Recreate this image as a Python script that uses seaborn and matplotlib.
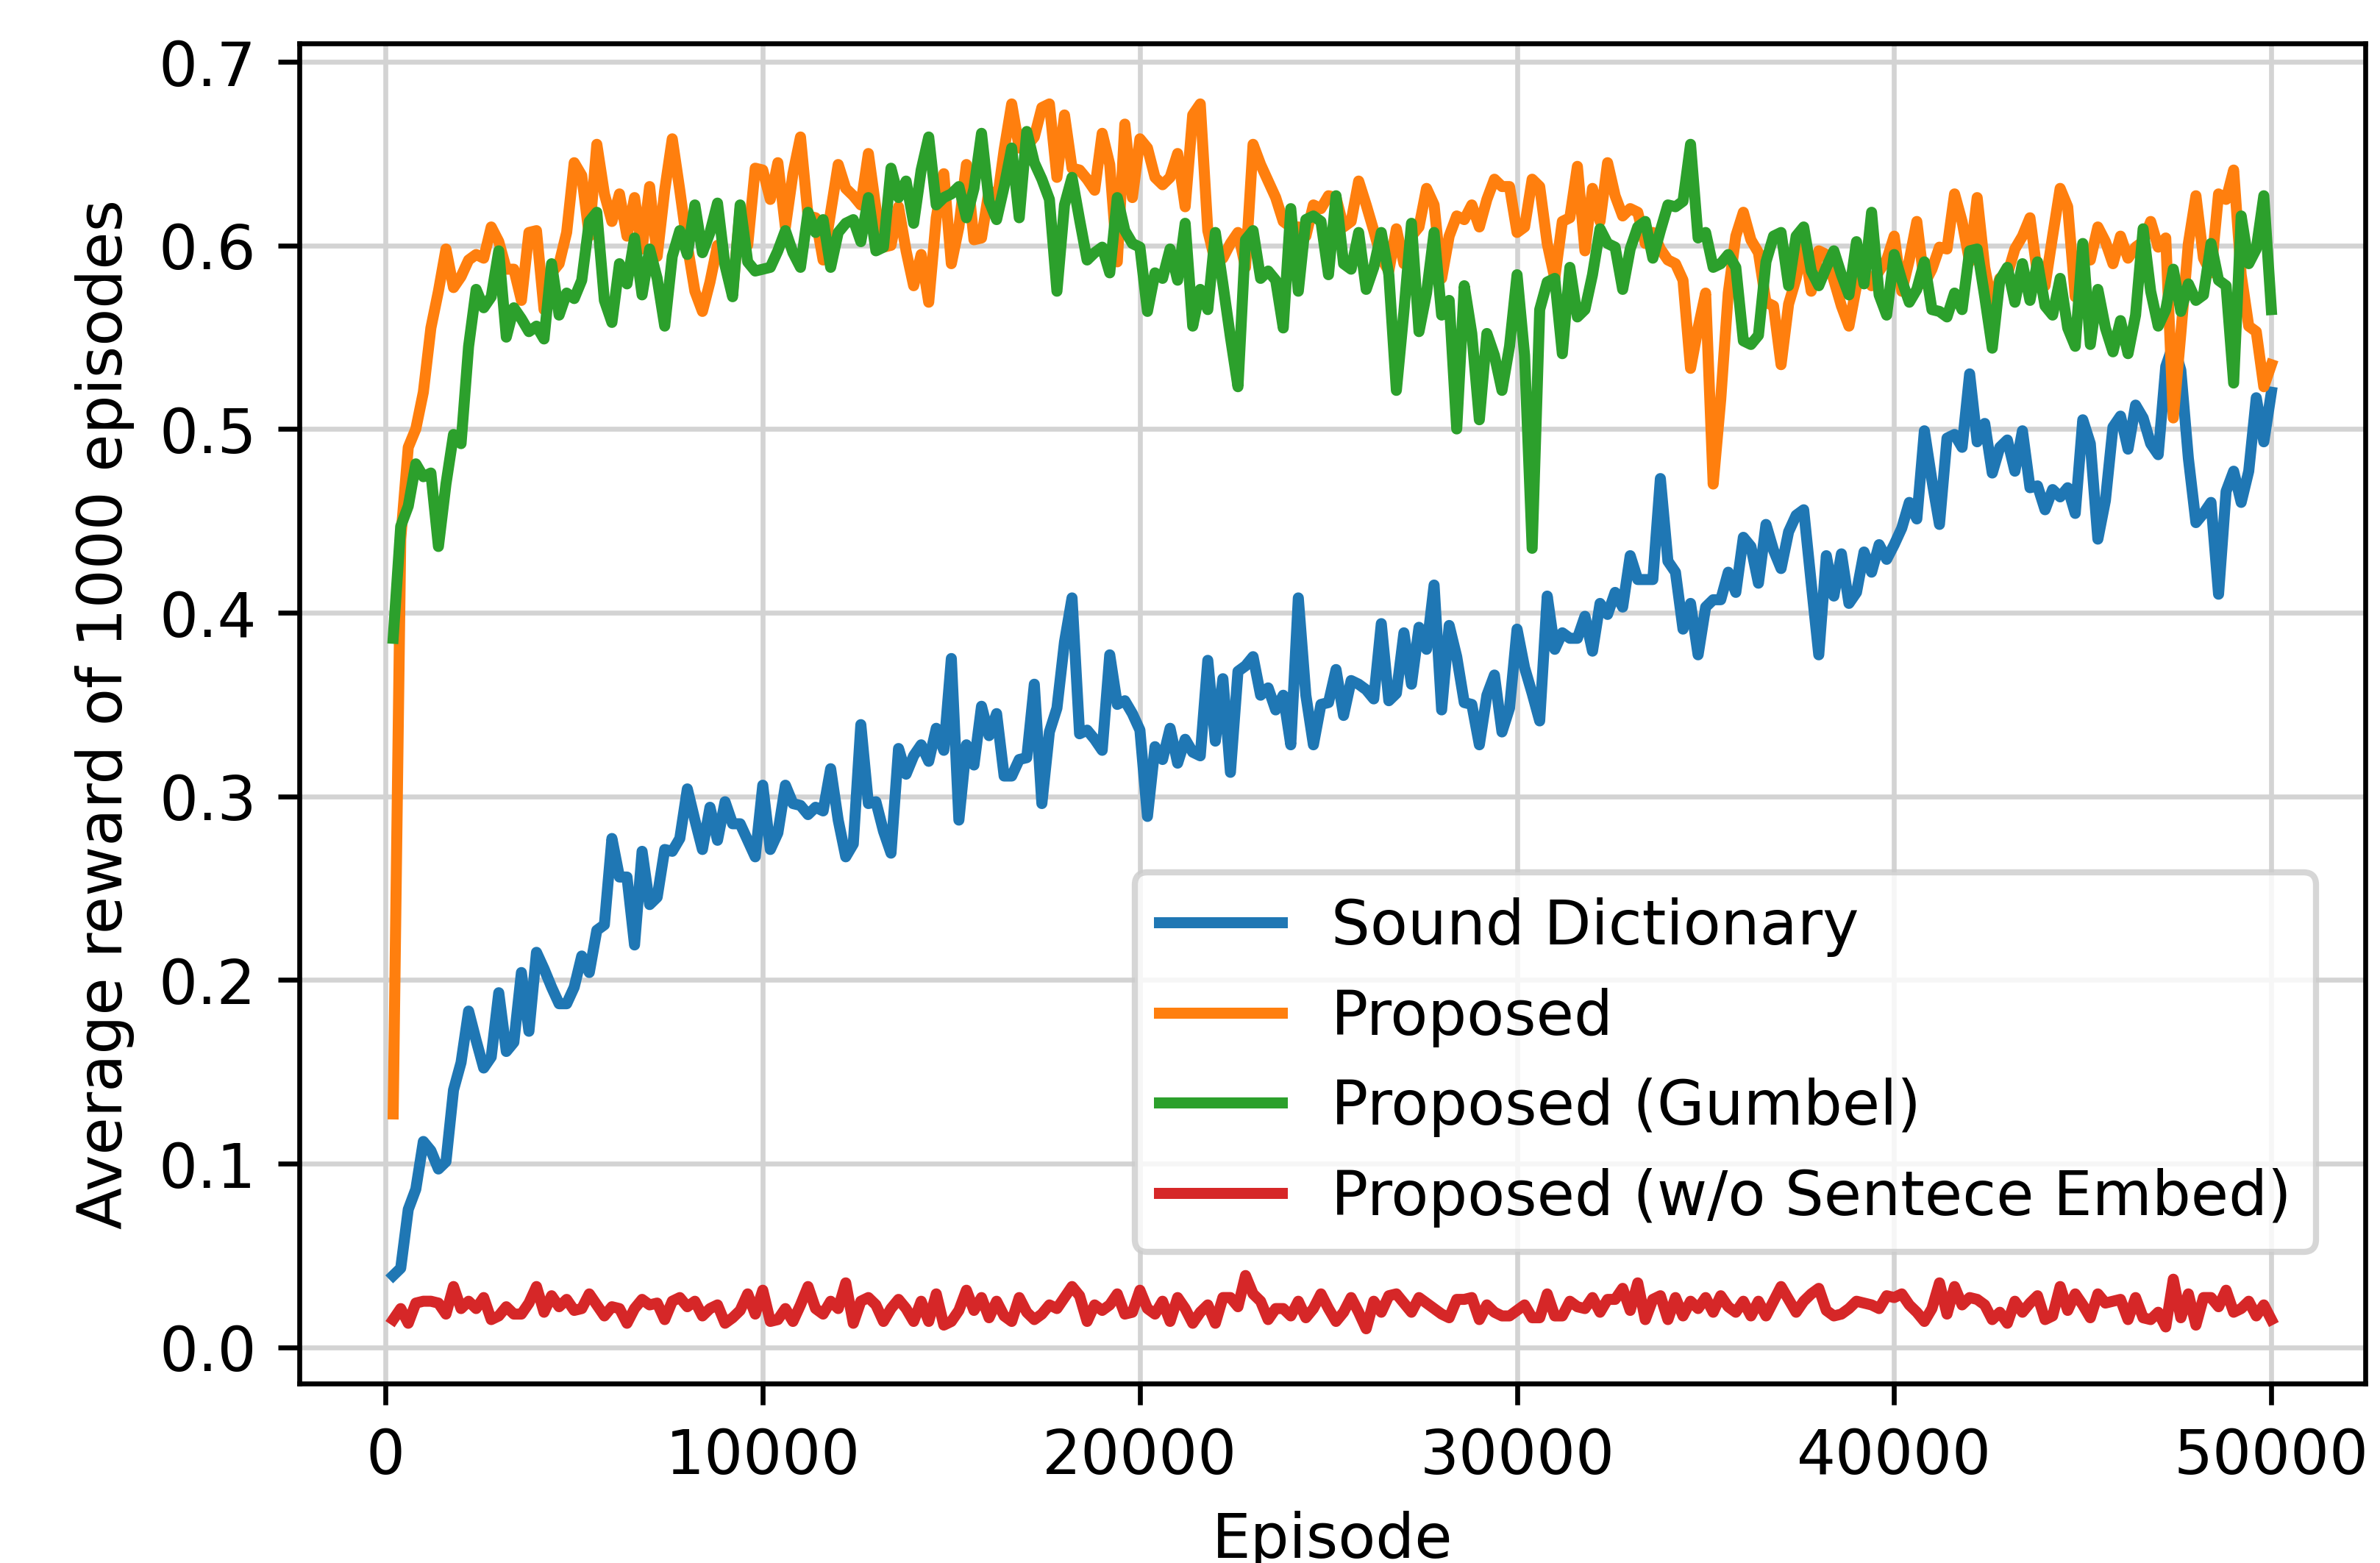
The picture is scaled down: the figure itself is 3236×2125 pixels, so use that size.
import numpy as np
import pandas as pd
import seaborn as sns
import matplotlib.pyplot as plt

# episodes at which the running average is logged (every 200)
episodes = np.arange(200, 50001, 200)

sound_dictionary = [
    0.039, 0.043, 0.075, 0.086, 0.112, 0.107, 0.097, 0.101, 0.140, 0.155,
    0.183, 0.167, 0.152, 0.158, 0.193, 0.161, 0.166, 0.204, 0.172, 0.215,
    0.206, 0.196, 0.187, 0.187, 0.196, 0.213, 0.204, 0.227, 0.230, 0.277,
    0.256, 0.256, 0.219, 0.270, 0.241, 0.245, 0.271, 0.270, 0.277, 0.304,
    0.287, 0.271, 0.294, 0.276, 0.297, 0.285, 0.285, 0.276, 0.267, 0.306,
    0.271, 0.280, 0.306, 0.296, 0.295, 0.290, 0.294, 0.292, 0.315, 0.287,
    0.267, 0.274, 0.339, 0.296, 0.297, 0.281, 0.269, 0.326, 0.312, 0.322,
    0.328, 0.319, 0.337, 0.325, 0.375, 0.287, 0.328, 0.317, 0.349, 0.333,
    0.345, 0.311, 0.311, 0.320, 0.321, 0.361, 0.296, 0.335, 0.348, 0.384,
    0.408, 0.334, 0.336, 0.331, 0.325, 0.377, 0.350, 0.352, 0.345, 0.336,
    0.289, 0.327, 0.320, 0.337, 0.318, 0.331, 0.324, 0.322, 0.374, 0.330,
    0.364, 0.313, 0.368, 0.371, 0.376, 0.355, 0.359, 0.347, 0.355, 0.328,
    0.408, 0.355, 0.328, 0.350, 0.351, 0.369, 0.344, 0.363, 0.361, 0.358,
    0.353, 0.394, 0.352, 0.356, 0.389, 0.361, 0.392, 0.380, 0.415, 0.347,
    0.393, 0.376, 0.351, 0.350, 0.328, 0.355, 0.366, 0.335, 0.348, 0.391,
    0.370, 0.356, 0.341, 0.409, 0.380, 0.389, 0.386, 0.386, 0.398, 0.379,
    0.405, 0.399, 0.411, 0.403, 0.431, 0.418, 0.418, 0.418, 0.473, 0.428,
    0.422, 0.391, 0.405, 0.377, 0.403, 0.407, 0.407, 0.422, 0.411, 0.441,
    0.436, 0.416, 0.448, 0.434, 0.424, 0.444, 0.453, 0.456, 0.416, 0.377,
    0.431, 0.409, 0.432, 0.405, 0.411, 0.433, 0.422, 0.437, 0.429, 0.437,
    0.446, 0.460, 0.451, 0.499, 0.472, 0.448, 0.495, 0.497, 0.490, 0.530,
    0.493, 0.503, 0.476, 0.490, 0.494, 0.477, 0.499, 0.468, 0.469, 0.456,
    0.467, 0.463, 0.468, 0.454, 0.505, 0.492, 0.440, 0.461, 0.501, 0.507,
    0.489, 0.513, 0.506, 0.492, 0.486, 0.534, 0.546, 0.532, 0.484, 0.449,
    0.454, 0.460, 0.410, 0.466, 0.477, 0.460, 0.477, 0.517, 0.493, 0.520,
]

proposed = [
    0.127, 0.440, 0.490, 0.500, 0.520, 0.555, 0.575, 0.598, 0.577, 0.583,
    0.592, 0.595, 0.593, 0.610, 0.602, 0.587, 0.587, 0.570, 0.607, 0.608,
    0.565, 0.585, 0.590, 0.607, 0.645, 0.638, 0.605, 0.655, 0.628, 0.613,
    0.628, 0.605, 0.626, 0.598, 0.632, 0.594, 0.630, 0.658, 0.630, 0.600,
    0.575, 0.564, 0.580, 0.600, 0.590, 0.574, 0.620, 0.600, 0.642, 0.641,
    0.625, 0.645, 0.610, 0.639, 0.659, 0.616, 0.615, 0.592, 0.618, 0.644,
    0.631, 0.627, 0.622, 0.650, 0.620, 0.599, 0.600, 0.621, 0.597, 0.578,
    0.595, 0.569, 0.615, 0.639, 0.590, 0.610, 0.644, 0.603, 0.604, 0.630,
    0.622, 0.652, 0.677, 0.653, 0.654, 0.659, 0.675, 0.677, 0.637, 0.671,
    0.642, 0.641, 0.636, 0.630, 0.661, 0.644, 0.591, 0.666, 0.626, 0.658,
    0.653, 0.637, 0.633, 0.637, 0.650, 0.621, 0.671, 0.677, 0.608, 0.591,
    0.593, 0.601, 0.607, 0.588, 0.655, 0.644, 0.635, 0.626, 0.613, 0.610,
    0.610, 0.605, 0.622, 0.620, 0.627, 0.626, 0.610, 0.613, 0.635, 0.622,
    0.608, 0.593, 0.586, 0.609, 0.590, 0.605, 0.610, 0.631, 0.622, 0.582,
    0.605, 0.616, 0.614, 0.622, 0.610, 0.625, 0.636, 0.632, 0.632, 0.607,
    0.610, 0.636, 0.632, 0.601, 0.582, 0.613, 0.615, 0.643, 0.597, 0.631,
    0.613, 0.645, 0.627, 0.616, 0.620, 0.618, 0.601, 0.607, 0.598, 0.592,
    0.590, 0.581, 0.533, 0.555, 0.574, 0.470, 0.516, 0.574, 0.605, 0.618,
    0.603, 0.596, 0.569, 0.567, 0.535, 0.568, 0.582, 0.601, 0.575, 0.597,
    0.595, 0.581, 0.567, 0.556, 0.578, 0.588, 0.578, 0.586, 0.592, 0.605,
    0.575, 0.592, 0.613, 0.579, 0.587, 0.599, 0.598, 0.628, 0.613, 0.591,
    0.626, 0.588, 0.567, 0.582, 0.584, 0.598, 0.605, 0.615, 0.584, 0.578,
    0.605, 0.631, 0.621, 0.572, 0.593, 0.592, 0.610, 0.602, 0.590, 0.605,
    0.593, 0.599, 0.602, 0.613, 0.599, 0.604, 0.506, 0.552, 0.601, 0.627,
    0.593, 0.585, 0.628, 0.625, 0.641, 0.584, 0.556, 0.553, 0.523, 0.535,
]

proposed_gumbel = [
    0.386, 0.447, 0.458, 0.481, 0.474, 0.476, 0.436, 0.470, 0.497, 0.492,
    0.545, 0.576, 0.566, 0.572, 0.597, 0.550, 0.566, 0.560, 0.553, 0.556,
    0.549, 0.590, 0.562, 0.574, 0.571, 0.581, 0.613, 0.618, 0.570, 0.558,
    0.590, 0.579, 0.604, 0.573, 0.598, 0.582, 0.556, 0.594, 0.608, 0.595,
    0.622, 0.596, 0.607, 0.623, 0.589, 0.572, 0.622, 0.591, 0.586, 0.587,
    0.588, 0.597, 0.608, 0.596, 0.588, 0.618, 0.607, 0.614, 0.588, 0.607,
    0.612, 0.614, 0.602, 0.626, 0.597, 0.599, 0.642, 0.626, 0.635, 0.612,
    0.641, 0.659, 0.622, 0.626, 0.628, 0.632, 0.615, 0.631, 0.661, 0.624,
    0.614, 0.632, 0.653, 0.615, 0.662, 0.645, 0.636, 0.625, 0.575, 0.622,
    0.637, 0.614, 0.592, 0.596, 0.599, 0.585, 0.626, 0.608, 0.601, 0.599,
    0.564, 0.585, 0.582, 0.598, 0.581, 0.612, 0.556, 0.576, 0.565, 0.607,
    0.579, 0.550, 0.523, 0.603, 0.608, 0.582, 0.586, 0.581, 0.555, 0.620,
    0.575, 0.614, 0.616, 0.613, 0.584, 0.627, 0.590, 0.587, 0.607, 0.576,
    0.588, 0.607, 0.584, 0.521, 0.564, 0.612, 0.553, 0.574, 0.607, 0.562,
    0.570, 0.500, 0.578, 0.552, 0.505, 0.552, 0.540, 0.521, 0.545, 0.584,
    0.540, 0.435, 0.565, 0.580, 0.582, 0.541, 0.588, 0.561, 0.565, 0.584,
    0.609, 0.601, 0.599, 0.576, 0.598, 0.610, 0.613, 0.593, 0.608, 0.622,
    0.621, 0.624, 0.655, 0.604, 0.607, 0.588, 0.590, 0.595, 0.588, 0.548,
    0.546, 0.551, 0.591, 0.605, 0.607, 0.578, 0.605, 0.610, 0.586, 0.578,
    0.588, 0.597, 0.584, 0.573, 0.602, 0.579, 0.618, 0.573, 0.562, 0.595,
    0.581, 0.569, 0.576, 0.591, 0.565, 0.564, 0.561, 0.574, 0.565, 0.597,
    0.598, 0.572, 0.544, 0.581, 0.588, 0.569, 0.590, 0.570, 0.591, 0.567,
    0.562, 0.582, 0.555, 0.545, 0.601, 0.546, 0.576, 0.555, 0.542, 0.559,
    0.541, 0.562, 0.609, 0.575, 0.556, 0.565, 0.587, 0.564, 0.579, 0.570,
    0.573, 0.601, 0.581, 0.578, 0.525, 0.616, 0.590, 0.598, 0.627, 0.565,
]

proposed_no_embed = [
    0.015, 0.021, 0.013, 0.024, 0.025, 0.025, 0.024, 0.018, 0.033, 0.021,
    0.025, 0.021, 0.027, 0.015, 0.017, 0.022, 0.018, 0.018, 0.024, 0.033,
    0.019, 0.028, 0.022, 0.026, 0.020, 0.021, 0.029, 0.023, 0.017, 0.022,
    0.021, 0.013, 0.021, 0.026, 0.023, 0.024, 0.015, 0.025, 0.027, 0.022,
    0.025, 0.017, 0.021, 0.023, 0.013, 0.016, 0.020, 0.029, 0.018, 0.031,
    0.014, 0.015, 0.021, 0.014, 0.023, 0.033, 0.021, 0.018, 0.025, 0.021,
    0.035, 0.013, 0.025, 0.027, 0.023, 0.014, 0.021, 0.026, 0.021, 0.014,
    0.025, 0.014, 0.029, 0.012, 0.014, 0.020, 0.031, 0.020, 0.027, 0.016,
    0.025, 0.017, 0.014, 0.027, 0.019, 0.015, 0.018, 0.023, 0.021, 0.027,
    0.033, 0.028, 0.014, 0.023, 0.020, 0.023, 0.029, 0.018, 0.019, 0.031,
    0.021, 0.018, 0.025, 0.014, 0.027, 0.021, 0.013, 0.019, 0.023, 0.013,
    0.027, 0.027, 0.022, 0.039, 0.029, 0.025, 0.015, 0.021, 0.021, 0.017,
    0.025, 0.016, 0.021, 0.029, 0.021, 0.014, 0.019, 0.027, 0.019, 0.010,
    0.025, 0.019, 0.028, 0.029, 0.024, 0.019, 0.027, 0.024, 0.021, 0.018,
    0.016, 0.026, 0.026, 0.027, 0.015, 0.023, 0.019, 0.017, 0.017, 0.020,
    0.023, 0.016, 0.016, 0.029, 0.017, 0.017, 0.025, 0.022, 0.021, 0.027,
    0.019, 0.026, 0.026, 0.032, 0.020, 0.035, 0.015, 0.026, 0.028, 0.015,
    0.027, 0.017, 0.025, 0.021, 0.027, 0.019, 0.028, 0.022, 0.019, 0.025,
    0.017, 0.025, 0.017, 0.025, 0.033, 0.026, 0.019, 0.025, 0.029, 0.032,
    0.020, 0.017, 0.018, 0.021, 0.025, 0.024, 0.023, 0.021, 0.028, 0.027,
    0.029, 0.023, 0.019, 0.014, 0.021, 0.035, 0.018, 0.033, 0.023, 0.027,
    0.026, 0.023, 0.015, 0.019, 0.013, 0.025, 0.019, 0.024, 0.028, 0.015,
    0.017, 0.033, 0.020, 0.029, 0.023, 0.016, 0.029, 0.024, 0.025, 0.026,
    0.015, 0.027, 0.016, 0.015, 0.019, 0.011, 0.037, 0.016, 0.029, 0.012,
    0.027, 0.027, 0.022, 0.031, 0.019, 0.021, 0.025, 0.017, 0.023, 0.015,
]

method_names = ["Sound Dictionary", "Proposed", "Proposed (Gumbel)",
                "Proposed (w/o Sentece Embed)"]
series = [sound_dictionary, proposed, proposed_gumbel, proposed_no_embed]

# long-form table for seaborn
frames = []
for name, values in zip(method_names, series):
    frames.append(pd.DataFrame({"Episode": episodes, "reward": values, "method": name}))
df = pd.concat(frames, ignore_index=True)

fig = plt.figure(figsize=(5.395, 3.543), dpi=600)
ax = fig.add_axes([0.1257, 0.1148, 0.8678, 0.857])

sns.lineplot(data=df, x="Episode", y="reward", hue="method", hue_order=method_names,
             palette=["#1f77b4", "#ff7f0e", "#2ca02c", "#d62728"],
             linewidth=1.8, ax=ax)

ax.set_xlabel("Episode")
ax.set_ylabel("Average reward of 1000 episodes")
ax.set_ylim(-0.0198, 0.7099)
ax.grid(True, color="#d3d3d3", linewidth=0.8)
ax.set_axisbelow(True)

ax.legend(loc="lower right", bbox_to_anchor=(0.976, 0.0985), borderaxespad=0)

fig.savefig("out.png", dpi=600)
